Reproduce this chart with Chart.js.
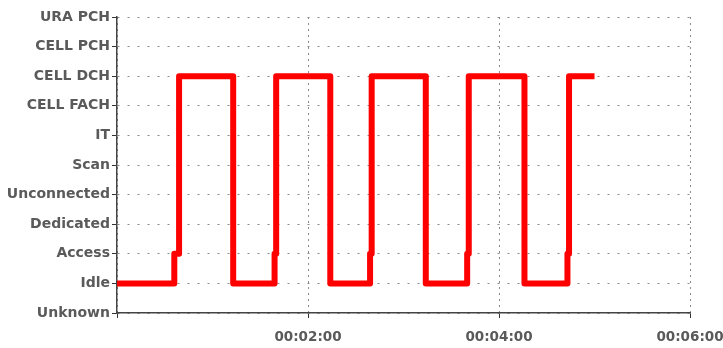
<!DOCTYPE html>
<html>
<head>
<meta charset="utf-8">
<script src="https://cdn.jsdelivr.net/npm/chart.js@4"></script>
<style>
  html, body { margin: 0; padding: 0; background: #fff; }
</style>
</head>
<body>
<canvas id="myChart" width="723" height="348"></canvas>
<script>
'use strict'

// radio states, bottom to top
const states = ['Unknown', 'Idle', 'Access', 'Dedicated', 'Unconnected', 'Scan', 'IT', 'CELL FACH', 'CELL DCH', 'CELL PCH', 'URA PCH']

// time (s) at which each state change happens
const times = [0, 36, 39, 73, 99, 100, 134, 159, 160, 194, 220, 221, 256, 283, 284, 300]
const stateLog = ['Idle', 'Access', 'CELL DCH', 'Idle', 'Access', 'CELL DCH', 'Idle', 'Access', 'CELL DCH',
  'Idle', 'Access', 'CELL DCH', 'Idle', 'Access', 'CELL DCH', 'CELL DCH']

// x axis ticks (seconds)
const xTicks = [0, 120, 240, 360]

const pad2 = n => String(n).padStart(2, '0')
const hms = s => pad2(Math.floor(s / 3600)) + ':' + pad2(Math.floor(s / 60) % 60) + ':' + pad2(s % 60)

const points = times.map((t, i) => ({x: t, y: states.indexOf(stateLog[i])}))

const tickFont = {family: 'DejaVu Sans', size: 14, weight: 'bold'}
const txtColor = '#5a5a5a'

const ctx = document.getElementById('myChart')

new Chart(ctx, {
  type: 'line',
  data: {
    datasets: [{
      data: points,
      stepped: true,
      borderColor: '#ff0000',
      borderWidth: 6,
      borderJoinStyle: 'round',
      pointRadius: 0,
      fill: false
    }]
  },
  options: {
    responsive: false,
    devicePixelRatio: 1,
    animation: false,
    layout: {padding: {top: 17, right: 33, left: 0, bottom: 0}},
    plugins: {legend: {display: false}, tooltip: {enabled: false}},
    scales: {
      x: {
        type: 'linear',
        min: 0,
        max: 360,
        afterBuildTicks: scale => { scale.ticks = xTicks.map(v => ({value: v})) },
        afterFit: scale => { scale.height = 35; scale.paddingRight = 0; scale.paddingLeft = 0 },
        ticks: {
          font: {family: 'DejaVu Sans', size: 13.5, weight: 'bold'},
          color: txtColor,
          padding: 11,
          maxRotation: 0,
          callback: v => v === 0 ? '' : hms(v)
        },
        grid: {color: '#8a8a8a', lineWidth: 1, tickLength: 5, tickColor: '#333', tickBorderDash: []},
        border: {color: '#444', width: 1.5, dash: [2, 4]}
      },
      y: {
        type: 'linear',
        min: 0,
        max: states.length - 1,
        afterFit: scale => { scale.width = 117; scale.paddingTop = 0; scale.paddingBottom = 0 },
        ticks: {
          stepSize: 1,
          font: tickFont,
          color: txtColor,
          padding: 2,
          callback: v => states[v]
        },
        grid: {color: '#8a8a8a', lineWidth: 1, tickLength: 5, tickColor: '#333', tickBorderDash: []},
        border: {color: '#444', width: 1.5, dash: [2, 8]}
      }
    }
  }
})
</script>
</body>
</html>
